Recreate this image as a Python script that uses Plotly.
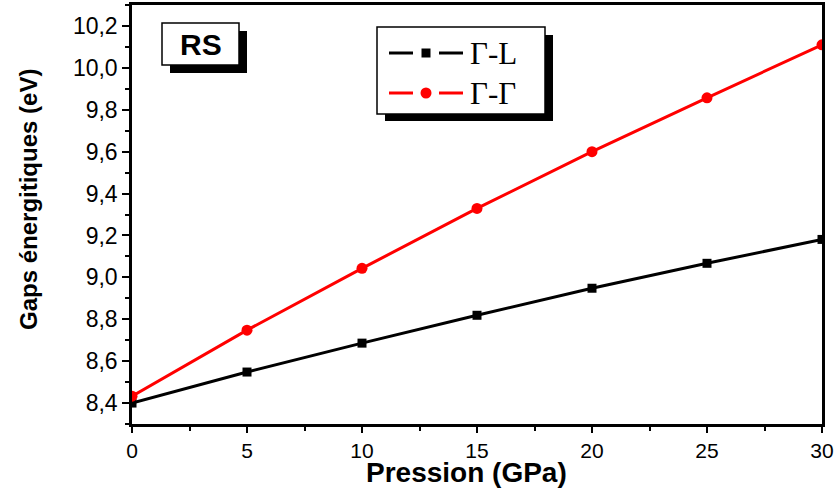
import plotly.graph_objects as go

pression = [0, 5, 10, 15, 20, 25, 30]
gap_gamma_L = [8.40, 8.548, 8.686, 8.819, 8.948, 9.067, 9.181]
gap_gamma_gamma = [8.433, 8.748, 9.043, 9.329, 9.600, 9.857, 10.11]
series_names = ["Γ-L", "Γ-Γ"]
series_colors = ["black", "#ff0000"]
label_box = "RS"
x_title = "Pression (GPa)"
y_title = "Gaps énergitiques (eV)"

W, H = 838, 488
L, R, T, B = 132, 16, 5, 64
PW, PH = W - L - R, H - T - B


def px(x):
    return (x - L) / PW


def py(y):
    return (H - B - y) / PH


fig = go.Figure()
fig.add_trace(go.Scatter(x=pression, y=gap_gamma_L, mode="lines+markers", name=series_names[0],
                         line=dict(color=series_colors[0], width=3),
                         marker=dict(symbol="square", size=9, color=series_colors[0])))
fig.add_trace(go.Scatter(x=pression, y=gap_gamma_gamma, mode="lines+markers", name=series_names[1],
                         line=dict(color=series_colors[1], width=3),
                         marker=dict(symbol="circle", size=11, color=series_colors[1])))

shapes = []
annotations = []

# RS label box with shadow
shapes.append(dict(type="rect", xref="paper", yref="paper", x0=px(170), x1=px(247), y0=py(73), y1=py(31),
                   fillcolor="black", line=dict(width=0), layer="above"))
shapes.append(dict(type="rect", xref="paper", yref="paper", x0=px(162), x1=px(239), y0=py(65), y1=py(23),
                   fillcolor="white", line=dict(color="black", width=1.5), layer="above"))
annotations.append(dict(xref="paper", yref="paper", x=px(200.5), y=py(45), text="<b>%s</b>" % label_box,
                        showarrow=False, xanchor="center", yanchor="middle",
                        font=dict(family="Liberation Sans, Arial", size=30, color="black")))

# Legend box with shadow
shapes.append(dict(type="rect", xref="paper", yref="paper", x0=px(385), x1=px(553), y0=py(121), y1=py(35),
                   fillcolor="black", line=dict(width=0), layer="above"))
shapes.append(dict(type="rect", xref="paper", yref="paper", x0=px(377), x1=px(545), y0=py(114), y1=py(27),
                   fillcolor="white", line=dict(color="black", width=1.5), layer="above"))
rows_y = [53, 93]
for i, (name, col) in enumerate(zip(series_names, series_colors)):
    yy = py(rows_y[i])
    shapes.append(dict(type="line", xref="paper", yref="paper", x0=px(389), x1=px(413), y0=yy, y1=yy,
                       line=dict(color=col, width=3), layer="above"))
    shapes.append(dict(type="line", xref="paper", yref="paper", x0=px(439), x1=px(463), y0=yy, y1=yy,
                       line=dict(color=col, width=3), layer="above"))
    if i == 0:
        shapes.append(dict(type="rect", xref="paper", yref="paper", x0=px(421.5), x1=px(430.5),
                           y0=py(rows_y[i] + 4.5), y1=py(rows_y[i] - 4.5),
                           fillcolor=col, line=dict(width=0), layer="above"))
    else:
        shapes.append(dict(type="circle", xref="paper", yref="paper", x0=px(420.5), x1=px(431.5),
                           y0=py(rows_y[i] + 5.5), y1=py(rows_y[i] - 5.5),
                           fillcolor=col, line=dict(width=0), layer="above"))
    annotations.append(dict(xref="paper", yref="paper", x=px(468), y=yy, text=name, showarrow=False,
                            xanchor="left", yanchor="middle",
                            font=dict(family="Liberation Serif, Times New Roman, serif", size=31, color="black")))

# axis titles
annotations.append(dict(xref="paper", yref="paper", x=px(466), y=py(489), text="<b>%s</b>" % x_title,
                        showarrow=False, xanchor="center", yanchor="bottom", borderpad=0,
                        font=dict(family="Liberation Sans, Arial", size=28, color="black")))
annotations.append(dict(xref="paper", yref="paper", x=px(28), y=py(200), text="<b>%s</b>" % y_title,
                        showarrow=False, xanchor="center", yanchor="middle", textangle=-90, borderpad=0,
                        font=dict(family="Liberation Sans, Arial", size=24, color="black")))

fig.update_layout(
    width=W, height=H,
    margin=dict(l=L, r=R, t=T, b=B, autoexpand=False),
    paper_bgcolor="white", plot_bgcolor="white",
    showlegend=False,
    separators=",.",
    shapes=shapes,
    annotations=annotations,
    font=dict(family="Liberation Sans, Arial", color="black"),
)
fig.update_xaxes(
    range=[0, 30], tickmode="linear", tick0=0, dtick=5,
    ticks="outside", ticklen=6, tickwidth=2, tickcolor="black",
    minor=dict(ticks="outside", dtick=2.5, ticklen=4, tickwidth=2, tickcolor="black"),
    showline=True, linewidth=2.5, linecolor="black", mirror=True,
    showgrid=False, zeroline=False, automargin=False,
    tickfont=dict(size=21, color="black"),
)
fig.update_yaxes(
    range=[8.3, 10.3], tickmode="linear", tick0=8.4, dtick=0.2, tickformat=".1f",
    ticks="outside", ticklen=7, tickwidth=2, tickcolor="black",
    minor=dict(ticks="outside", dtick=0.1, ticklen=4, tickwidth=2, tickcolor="black"),
    showline=True, linewidth=2.5, linecolor="black", mirror=True,
    showgrid=False, zeroline=False, automargin=False,
    tickfont=dict(size=23, color="black"),
)

fig.write_html("out.html", config={"displayModeBar": False},
               post_script="document.body.style.margin='0';document.body.style.overflow='hidden';")
